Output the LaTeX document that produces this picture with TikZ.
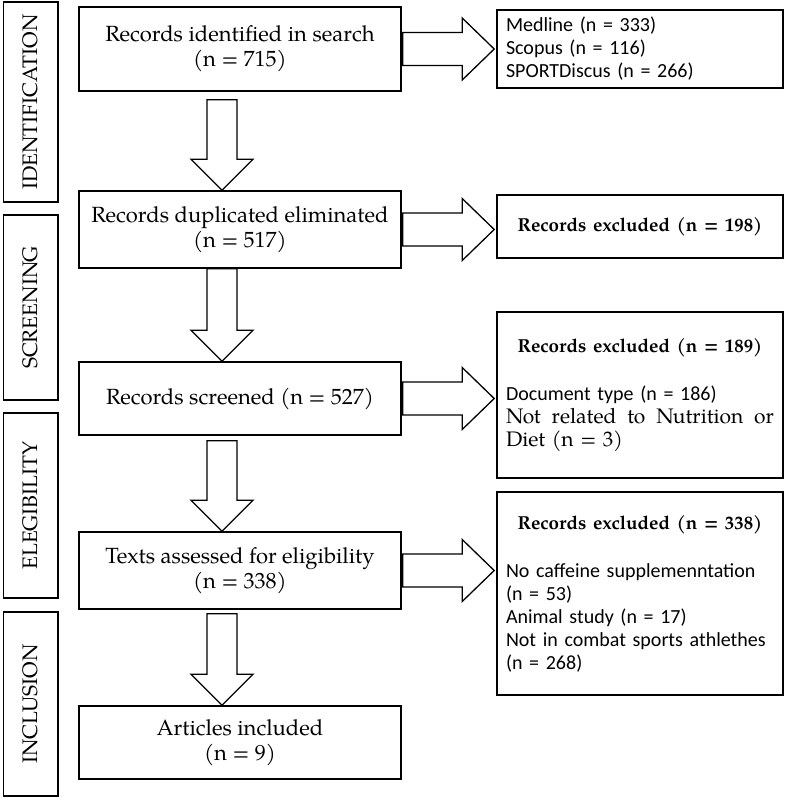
\documentclass[tikz,border=0pt]{standalone}
\usepackage{fontspec}
\setmainfont{TeX Gyre Pagella}
\newfontfamily\calib{Carlito}
\usepackage{tikz}
\usetikzlibrary{positioning}
\usetikzlibrary{calc}
\tikzstyle{stage}=[rectangle,draw,line width=1.6pt,minimum height=54.5pt,inner sep=0pt,font=\fontsize{21}{25}\selectfont]
\tikzstyle{mainbox}=[rectangle,draw,line width=1.6pt,minimum width=322pt,align=center,inner sep=0pt,font=\fontsize{22}{25}\selectfont]
\tikzstyle{sidebox}=[rectangle,draw,line width=1.6pt,minimum width=286pt,text width=268pt,align=left,inner xsep=9pt,inner ysep=0pt,font=\calib\fontsize{20}{23}\selectfont]
\tikzstyle{hollow}=[draw,line width=1.3pt,fill=white,line join=miter]
\newcommand{\excl}[1]{\makebox[\hsize]{\rmfamily\bfseries\fontsize{18.8}{23}\selectfont Records excluded (n = #1)}}
% big hollow arrows
\newcommand{\downarr}[3]{%
 \draw[hollow] let \p1=($(#1.south)+(-18,0)$), \p2=(#2.north) in
  (\x1-15pt,\y1-#3pt) -- (\x1-15pt,\y2+31pt) -- (\x1-31pt,\y2+31pt) -- (\x1,\y2)
  -- (\x1+31pt,\y2+31pt) -- (\x1+15pt,\y2+31pt) -- (\x1+15pt,\y1-#3pt) -- cycle;}
\newcommand{\rightarr}[2]{%
 \draw[hollow] let \p1=(#1.east), \p2=(#2.west) in
  (\x1+1pt,\y1+16.5pt) -- (\x2-34pt,\y1+16.5pt) -- (\x2-34pt,\y1+31pt) -- (\x2-2pt,\y1)
  -- (\x2-34pt,\y1-31pt) -- (\x2-34pt,\y1-16.5pt) -- (\x1+1pt,\y1-16.5pt) -- cycle;}

\begin{document}
\begin{tikzpicture}[x=1pt,y=-1pt]

 \useasboundingbox (0,0) rectangle (787,798);

 %stages
 \foreach \y/\h/\name/\label in {102/200/idf/IDENTIFICATION, 307.5/185/scr/SCREENING, 505.5/185/elg/ELEGIBILITY, 704/184/inc/INCLUSION}
          \node[stage,rotate=90,minimum width=\h] (\name) at (30.75,\y) {\label};

 %main column
 \foreach \y/\h/\name/\label in {49/84/srch/{Records identified in search\\(n = 715)}, 229.5/77/dupl/{Records duplicated eliminated\\(n = 517)}, 398.5/73/scrn/{Records screened (n = 527)}, 570.5/77/elig/{Texts assessed for eligibility\\(n = 338)}, 742.5/73/incl/{Articles included\\(n = 9)}}
          \node[mainbox,minimum height=\h] (\name) at (240,\y) {\label};

 %excluded column
 \node[sidebox,minimum height=78] (dbs) at (640,49) {Medline (n = 333)\\Scopus (n = 116)\\SPORTDiscus (n = 266)};
 \node[sidebox,minimum height=63] (ex1) at (640,226.5) {\excl{198}};
 \node[sidebox,minimum height=166] (ex2) at (640,395) {\excl{189}\\[25pt]
   Document type (n = 186)\\
   \makebox[\hsize][l]{\rmfamily\fontsize{21}{23}\selectfont Not\hfill related\hfill to\hfill Nutrition\hfill or}\\
   {\rmfamily\fontsize{21}{23}\selectfont Diet (n = 3)}};
 \node[sidebox,minimum height=203] (ex3) at (640,593.5) {\excl{338}\\[25pt]
   No caffeine supplemenntation\\(n = 53)\\Animal study (n = 17)\\Not in combat sports athlethes\\(n = 268)};

 %arrows
 \foreach \source/\dest/\gap in {srch/dupl/8, dupl/scrn/0, scrn/elig/5, elig/incl/4}
         \downarr{\source}{\dest}{\gap};

 \foreach \source/\dest in {srch/dbs, dupl/ex1, scrn/ex2, elig/ex3}
         \rightarr{\source}{\dest};

\end{tikzpicture}
\end{document}
